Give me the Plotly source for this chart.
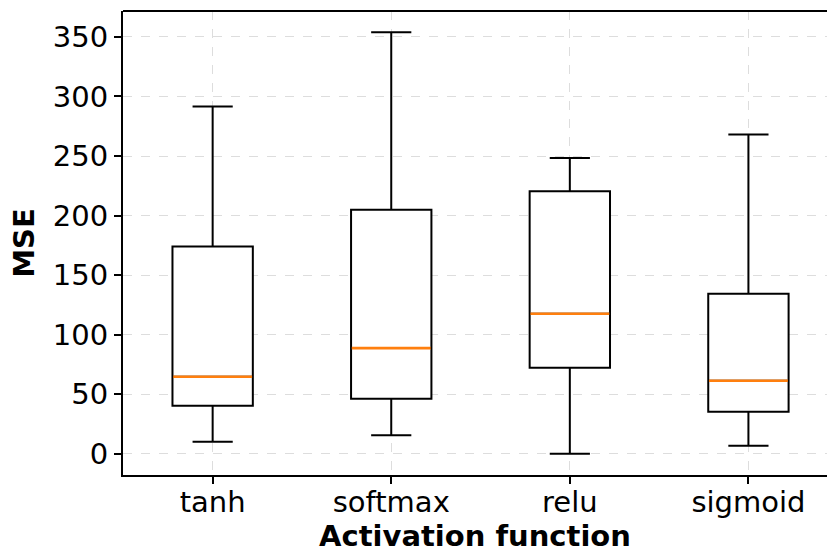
import plotly.graph_objects as go

categories = ["tanh", "softmax", "relu", "sigmoid"]
lower_whisker = [10.1, 15.4, 0.0, 6.7]
q1_values = [40.3, 46.2, 72.2, 35.3]
median_values = [64.6, 88.7, 117.5, 61.3]
q3_values = [174.1, 204.8, 220.5, 134.3]
upper_whisker = [291.6, 354.0, 248.4, 268.0]
y_ticks = [0, 50, 100, 150, 200, 250, 300, 350]

positions = list(range(len(categories)))
box_width = 0.45
font = "DejaVu Sans"

fig = go.Figure()
fig.add_trace(go.Box(
    x=positions,
    q1=q1_values,
    median=median_values,
    q3=q3_values,
    lowerfence=lower_whisker,
    upperfence=upper_whisker,
    width=box_width,
    whiskerwidth=0.5,
    fillcolor="white",
    line=dict(color="black", width=2),
    boxpoints=False,
    showlegend=False,
))

mx, my = [], []
for p, m in zip(positions, median_values):
    mx += [p - box_width / 2 + 0.004, p + box_width / 2 - 0.004, None]
    my += [m, m, None]
fig.add_trace(go.Scatter(x=mx, y=my, mode="lines",
                         line=dict(color="#ff7f0e", width=2.6),
                         showlegend=False, hoverinfo="skip"))

fig.update_layout(
    width=827, height=554,
    margin=dict(l=123, r=0, t=11, b=79),
    plot_bgcolor="white", paper_bgcolor="white",
    font=dict(family=font, size=29, color="black"),
    xaxis=dict(
        range=[-0.502, 3.44],
        tickmode="array", tickvals=positions, ticktext=categories,
        showline=True, linecolor="black", linewidth=2, mirror=False,
        ticks="outside", ticklen=7, tickwidth=1.5, tickcolor="black",
        showgrid=True, gridcolor="#dddddd", griddash="dash", gridwidth=1,
        zeroline=False, automargin=False,
        tickfont=dict(size=29), ticklabelstandoff=-7,
        title=dict(text="<b>Activation function</b>", font=dict(size=29), standoff=4),
    ),
    yaxis=dict(
        range=[-17.9, 371.8],
        tickmode="array", tickvals=y_ticks,
        showline=True, linecolor="black", linewidth=2, mirror=False,
        ticks="outside", ticklen=7, tickwidth=1.5, tickcolor="black",
        showgrid=True, gridcolor="#dddddd", griddash="dash", gridwidth=1,
        zeroline=False, automargin=False,
        tickfont=dict(size=29),
        title=dict(text="<b>MSE</b>", font=dict(size=29), standoff=10),
    ),
    shapes=[dict(type="line", xref="paper", yref="paper", x0=0, x1=1, y0=1, y1=1,
                 line=dict(color="black", width=2))],
)

fig.write_html("out.html",
               config={"displayModeBar": False},
               post_script="document.body.style.margin='0';document.body.style.overflow='hidden';")
